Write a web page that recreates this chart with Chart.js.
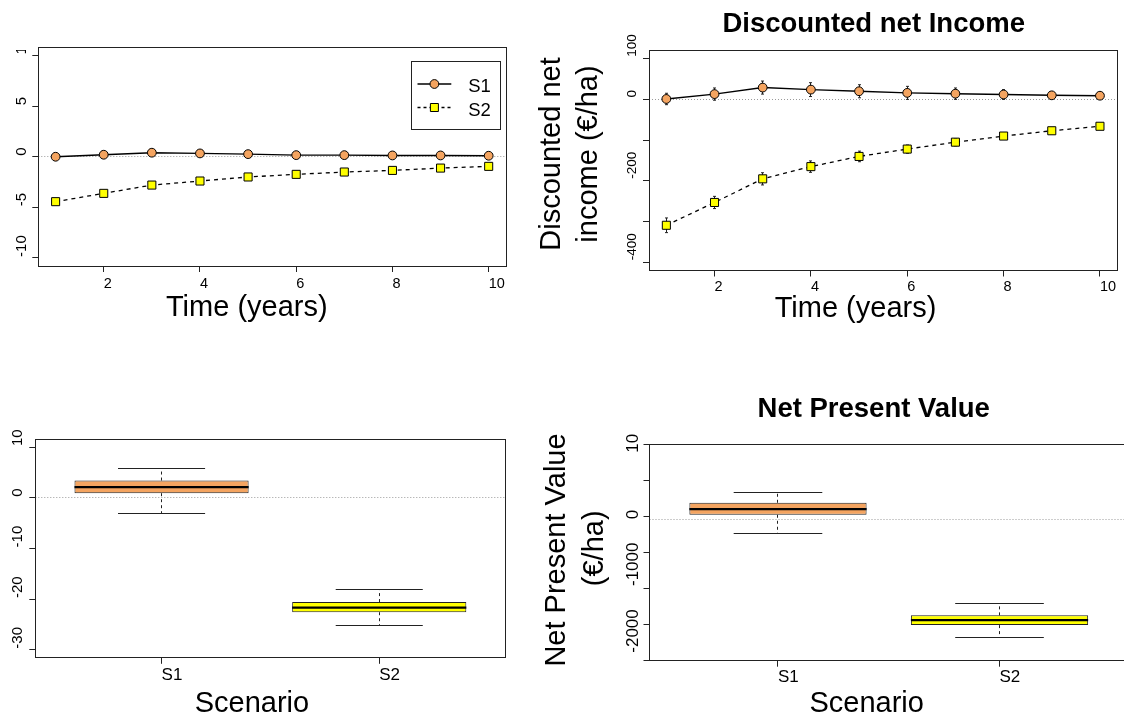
<!DOCTYPE html>
<html><head><meta charset="utf-8">
<script src="https://cdn.jsdelivr.net/npm/chart.js@4.4.1/dist/chart.umd.min.js"></script>
<style>
html,body{margin:0;padding:0;background:#fff;overflow:hidden}
#wrap{position:relative;width:1124px;height:718px;overflow:hidden;background:#fff}
#wrap canvas{position:absolute;left:0;top:0}
</style></head><body>
<div id="wrap">
<canvas id="c1" width="1124" height="718"></canvas>
<canvas id="c2" width="1124" height="718"></canvas>
<canvas id="c3" width="1124" height="718"></canvas>
<canvas id="c4" width="1140" height="718"></canvas>
</div>
<script>
// ---------------- data ----------------
const years = [1, 2, 3, 4, 5, 6, 7, 8, 9, 10];
// top-left panel (no axis title)
const incomeS1 = [0, 0.2, 0.4, 0.33, 0.26, 0.16, 0.16, 0.13, 0.13, 0.1];
const incomeS2 = [-4.44, -3.62, -2.8, -2.4, -2.0, -1.74, -1.51, -1.35, -1.12, -0.95];
// top-right panel: discounted net income (EUR/ha)
const dniS1 = [1, 13, 29, 24, 20, 16, 14, 12, 10, 9];
const dniS2 = [-309, -253, -195, -165, -140, -122, -105, -90, -77, -66];
const dniS1Err = [14, 15, 16, 17, 16, 16, 14, 12, 9, 8];
const dniS2Err = [18, 15, 15, 14, 13, 10, 9, 8, 7, 6];
// bottom panels: scenarios
const scenarios = ['S1', 'S2'];
const rawLow = [-3.1, -25.3];
const rawQ1 = [0.9, -22.6];
const rawMed = [2.1, -21.7];
const rawQ3 = [3.4, -20.6];
const rawHigh = [5.7, -18.1];
const npvLow = [-210, -1766];
const npvQ1 = [69, -1586];
const npvMed = [155, -1510];
const npvQ3 = [249, -1440];
const npvHigh = [405, -1260];
// y tick labels shown
const yLabelsTL = [10, 5, 0, -5, -10];
const yLabelsTR = [100, 0, -200, -400];
const yLabelsBL = [10, 0, -10, -20, -30];
const yLabelsBR = [1000, 0, -1000, -2000];
const seriesNames = ['S1', 'S2'];

// ---------------- styling ----------------
const FONT = '"Liberation Sans", Arial, Helvetica, sans-serif';
const ORANGE = '#F4A460';
const YELLOW = '#FFFF00';
const INK = '#222';
Chart.defaults.font.family = FONT;
Chart.defaults.color = '#000';

function alignPx(p) { return Math.round(p - 0.5) + 0.5; }

const decor = {
  id: 'decor',
  beforeDatasetsDraw(chart, args, o) {
    const ctx = chart.ctx, a = chart.chartArea, xs = chart.scales.x, ys = chart.scales.y;
    // dotted zero reference line
    ctx.save();
    ctx.strokeStyle = '#9a9a9a'; ctx.lineWidth = 1; ctx.setLineDash([1, 2]);
    const y0 = alignPx(ys.getPixelForValue(0));
    ctx.beginPath(); ctx.moveTo(a.left, y0); ctx.lineTo(a.right, y0); ctx.stroke();
    ctx.restore();
    // error bars
    if (o.err) {
      ctx.save();
      ctx.strokeStyle = INK; ctx.lineWidth = 1;
      for (const s of o.err) {
        s.vals.forEach((v, i) => {
          const x = alignPx(xs.getPixelForValue(s.xs[i]));
          const yt = ys.getPixelForValue(v + s.errs[i]);
          const yb = ys.getPixelForValue(v - s.errs[i]);
          ctx.beginPath();
          ctx.moveTo(x, yt); ctx.lineTo(x, yb);
          ctx.moveTo(x - 1.5, yt); ctx.lineTo(x + 1.5, yt);
          ctx.moveTo(x - 1.5, yb); ctx.lineTo(x + 1.5, yb);
          ctx.stroke();
        });
      }
      ctx.restore();
    }
  },
  afterDatasetsDraw(chart, args, o) {
    const ctx = chart.ctx, xs = chart.scales.x, ys = chart.scales.y;
    if (o.box) {
      const meta = chart.getDatasetMeta(0);
      const b = o.box;
      ctx.save();
      b.med.forEach((m, i) => {
        const el = meta.data[i];
        const cx = el.x, w = el.width;
        const xc = alignPx(cx);
        const pHigh = ys.getPixelForValue(b.high[i]);
        const pLow = ys.getPixelForValue(b.low[i]);
        const pQ3 = ys.getPixelForValue(b.q3[i]);
        const pQ1 = ys.getPixelForValue(b.q1[i]);
        // dashed whiskers
        ctx.strokeStyle = INK; ctx.lineWidth = 1; ctx.setLineDash([3, 3]);
        ctx.beginPath();
        ctx.moveTo(xc, pQ3); ctx.lineTo(xc, pHigh);
        ctx.moveTo(xc, pQ1); ctx.lineTo(xc, pLow);
        ctx.stroke();
        // staples
        ctx.setLineDash([]);
        ctx.beginPath();
        ctx.moveTo(cx - w / 4, alignPx(pHigh)); ctx.lineTo(cx + w / 4, alignPx(pHigh));
        ctx.moveTo(cx - w / 4, alignPx(pLow)); ctx.lineTo(cx + w / 4, alignPx(pLow));
        ctx.stroke();
        // median
        ctx.strokeStyle = '#000'; ctx.lineWidth = 2.2;
        const pm = ys.getPixelForValue(m);
        ctx.beginPath(); ctx.moveTo(cx - w / 2, pm); ctx.lineTo(cx + w / 2, pm); ctx.stroke();
      });
      ctx.restore();
    }
  },
  afterDraw(chart, args, o) {
    const ctx = chart.ctx, a = chart.chartArea, ys = chart.scales.y;
    // plot frame
    ctx.save();
    ctx.strokeStyle = INK; ctx.lineWidth = 1;
    const l = alignPx(a.left), t = alignPx(a.top), r = alignPx(a.right), bt = alignPx(a.bottom);
    ctx.strokeRect(l, t, r - l, bt - t);
    ctx.restore();
    // rotated y tick labels
    if (o.yLabels) {
      const L = o.yLabels;
      ctx.save();
      if (L.clipTop != null) { ctx.beginPath(); ctx.rect(0, L.clipTop, chart.width, chart.height - L.clipTop); ctx.clip(); }
      ctx.font = L.size + 'px ' + FONT;
      ctx.fillStyle = '#000'; ctx.textAlign = 'left'; ctx.textBaseline = 'alphabetic';
      const cap = L.size * 0.716;
      const cx = a.left - L.gap;
      for (const v of L.values) {
        const py = ys.getPixelForValue(v) - L.lift;
        ctx.save(); ctx.translate(cx + cap / 2, py); ctx.rotate(-Math.PI / 2);
        ctx.fillText(String(v), 0, 0); ctx.restore();
      }
      ctx.restore();
    }
    // free texts (titles)
    for (const t of (o.texts || [])) {
      ctx.save();
      ctx.font = t.font; ctx.fillStyle = '#000'; ctx.textAlign = 'center'; ctx.textBaseline = 'alphabetic';
      ctx.translate(t.x, t.y); if (t.rot) ctx.rotate(-Math.PI / 2);
      ctx.fillText(t.text, 0, 0); ctx.restore();
    }
    // legend
    if (o.legend) {
      const g = o.legend;
      ctx.save();
      ctx.fillStyle = '#fff'; ctx.fillRect(g.x0, g.y0, g.x1 - g.x0, g.y1 - g.y0);
      ctx.strokeStyle = INK; ctx.lineWidth = 1;
      ctx.strokeRect(alignPx(g.x0), alignPx(g.y0), Math.round(g.x1 - g.x0), Math.round(g.y1 - g.y0));
      g.items.forEach((it, i) => {
        const y = g.rows[i];
        ctx.strokeStyle = '#000'; ctx.lineWidth = 1.3; ctx.setLineDash(it.dash);
        ctx.beginPath(); ctx.moveTo(g.lx0, y); ctx.lineTo(g.lx1, y); ctx.stroke();
        ctx.setLineDash([]); ctx.lineWidth = 1;
        const mx = (g.lx0 + g.lx1) / 2;
        ctx.fillStyle = it.fill; ctx.beginPath();
        if (it.shape === 'circle') ctx.arc(mx, y, 4.4, 0, Math.PI * 2);
        else ctx.rect(mx - 4, y - 4, 8, 8);
        ctx.fill(); ctx.stroke();
        ctx.fillStyle = '#000'; ctx.font = g.size + 'px ' + FONT;
        ctx.textAlign = 'left'; ctx.textBaseline = 'alphabetic';
        ctx.fillText(it.text, g.tx, g.base[i]);
      });
      ctx.restore();
    }
  }
};

function gridOpts() {
  return { display: true, drawOnChartArea: false, drawTicks: true, tickLength: 6, color: INK, lineWidth: 1, offset: false };
}
function xAxis(min, max, step, size, pad, cb) {
  const t = { stepSize: step, includeBounds: false, align: 'start', autoSkip: false, maxRotation: 0, minRotation: 0,
              font: { size: size, family: FONT }, color: '#000', padding: pad };
  if (cb) t.callback = cb;
  return { type: 'linear', position: 'bottom', min, max, offset: false, ticks: t, grid: gridOpts(),
           border: { display: false }, afterFit: s => { s.height = 30; } };
}
function yAxis(min, max, step) {
  return { type: 'linear', position: 'left', min, max, ticks: { stepSize: step, includeBounds: false, display: false },
           grid: gridOpts(), border: { display: false }, afterFit: s => { s.width = 6; } };
}
function padFor(L, T, R, B, W) { return { left: L - 6, top: T, right: W - R, bottom: 718 - B - 30 }; }

function lineDatasets(a, b) {
  return [
    { label: seriesNames[0], data: years.map((x, i) => ({ x, y: a[i] })), borderColor: '#000', borderWidth: 1.4,
      pointStyle: 'circle', pointRadius: 4.4, pointBackgroundColor: ORANGE, pointBorderColor: '#000', pointBorderWidth: 1, tension: 0 },
    { label: seriesNames[1], data: years.map((x, i) => ({ x, y: b[i] })), borderColor: '#000', borderWidth: 1.3, borderDash: [4, 4],
      pointStyle: 'rect', pointRadius: 5.7, pointBackgroundColor: YELLOW, pointBorderColor: '#000', pointBorderWidth: 1, tension: 0 }
  ];
}
const baseOpts = { responsive: false, animation: false, events: [] };

// ---------- top-left ----------
new Chart(document.getElementById('c1'), {
  type: 'line',
  data: { datasets: lineDatasets(incomeS1, incomeS2) },
  options: Object.assign({}, baseOpts, {
    layout: { padding: padFor(38.3, 47.5, 506, 266, 1124) },
    scales: { x: xAxis(0.64, 10.36, 2, 14.5, 3), y: yAxis(-10.8, 10.8, 5) },
    plugins: { legend: { display: false }, tooltip: { enabled: false },
      decor: {
        yLabels: { values: yLabelsTL, size: 15, gap: 18, lift: 1, clipTop: 50 },
        texts: [ { text: 'Time (years)', x: 246.8, y: 316, font: '29px ' + FONT } ],
        legend: { x0: 411.4, y0: 61.7, x1: 500, y1: 130, lx0: 417.5, lx1: 451.3, tx: 468.2, size: 18.5,
                  rows: [84, 107.5], base: [92, 115.5],
                  items: [ { text: seriesNames[0], shape: 'circle', fill: ORANGE, dash: [] },
                           { text: seriesNames[1], shape: 'rect', fill: YELLOW, dash: [3, 3] } ] }
      } }
  }),
  plugins: [decor]
});

// ---------- top-right ----------
new Chart(document.getElementById('c2'), {
  type: 'line',
  data: { datasets: lineDatasets(dniS1, dniS2) },
  options: Object.assign({}, baseOpts, {
    layout: { padding: padFor(649, 50.5, 1118.3, 270.5, 1124) },
    scales: { x: xAxis(0.64, 10.36, 2, 14.5, 2), y: yAxis(-420, 120, 100) },
    plugins: { legend: { display: false }, tooltip: { enabled: false },
      decor: {
        err: [ { xs: years, vals: dniS1, errs: dniS1Err }, { xs: years, vals: dniS2, errs: dniS2Err } ],
        yLabels: { values: yLabelsTR, size: 13.5, gap: 17.5, lift: 2 },
        texts: [
          { text: 'Discounted net Income', x: 873.7, y: 32.3, font: 'bold 27.5px ' + FONT },
          { text: 'Time (years)', x: 855.5, y: 316.5, font: '29px ' + FONT },
          { text: 'Discounted net', x: 559.5, y: 154, font: '29px ' + FONT, rot: true },
          { text: 'income (€/ha)', x: 597, y: 154, font: '29px ' + FONT, rot: true }
        ]
      } }
  }),
  plugins: [decor]
});

function boxChart(id, W, rect, yMin, yMax, yStep, low, q1, med, q3, high, yl, texts, xpad) {
  return new Chart(document.getElementById(id), {
    type: 'bar',
    data: { datasets: [ {
      data: scenarios.map((s, i) => ({ x: i + 1, y: [q1[i], q3[i]] })),
      backgroundColor: [ORANGE, YELLOW], borderColor: INK, borderWidth: 1, borderSkipped: false,
      barPercentage: 0.8, categoryPercentage: 1, grouped: false
    } ] },
    options: Object.assign({}, baseOpts, {
      layout: { padding: padFor(rect[0], rect[1], rect[2], rect[3], W) },
      scales: {
        x: xAxis(0.42, 2.58, 1, 17, xpad, v => scenarios[v - 1] || ''),
        y: yAxis(yMin, yMax, yStep)
      },
      plugins: { legend: { display: false }, tooltip: { enabled: false },
        decor: { box: { low, q1, med, q3, high }, yLabels: yl, texts } }
    }),
    plugins: [decor]
  });
}

// ---------- bottom-left ----------
boxChart('c3', 1124, [35.3, 439, 505.5, 657.8], -31.6, 11.6, 10, rawLow, rawQ1, rawMed, rawQ3, rawHigh,
  { values: yLabelsBL, size: 15, gap: 18.4, lift: 1 },
  [ { text: 'Scenario', x: 251.9, y: 711.7, font: '29px ' + FONT } ], 1);

// ---------- bottom-right ----------
boxChart('c4', 1140, [649.5, 444.3, 1128, 660.7], -2120, 1126, 500, npvLow, npvQ1, npvMed, npvQ3, npvHigh,
  { values: yLabelsBR, size: 17, gap: 17.8, lift: 0, clipTop: 433 },
  [ { text: 'Net Present Value', x: 873.7, y: 416.7, font: 'bold 27.5px ' + FONT },
    { text: 'Scenario', x: 866.7, y: 711.7, font: '29px ' + FONT },
    { text: 'Net Present Value', x: 565, y: 550, font: '29px ' + FONT, rot: true },
    { text: '(€/ha)', x: 602.5, y: 548.3, font: '29px ' + FONT, rot: true } ], 0.5);
</script>
</body></html>
